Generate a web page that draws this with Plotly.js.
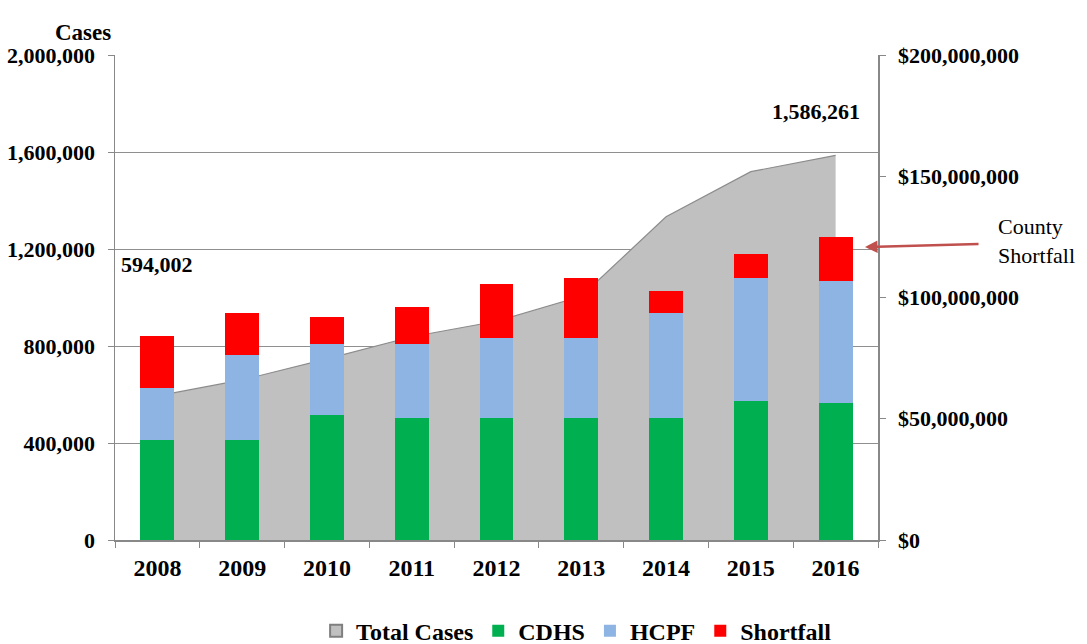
<!DOCTYPE html>
<html>
<head>
<meta charset="utf-8">
<script src="https://cdn.plot.ly/plotly-3.0.1.min.js"></script>
<style>html,body{margin:0;padding:0;background:#fff;}#chart{width:1087px;height:644px;}</style>
</head>
<body>
<div id="chart"></div>
<script>
var years = ['2008','2009','2010','2011','2012','2013','2014','2015','2016'];
var totalCases = [594002, 660000, 747000, 838000, 902000, 1005000, 1333000, 1519000, 1586261];
var cdhs = [41200000, 41200000, 51400000, 50200000, 50200000, 50200000, 50200000, 57300000, 56600000];
var hcpf = [21400000, 35000000, 29300000, 30500000, 33000000, 33000000, 43500000, 50600000, 50100000];
var shortfall = [21400000, 17400000, 11100000, 15500000, 22200000, 24700000, 9100000, 9900000, 18100000];
var seriesNames = ['Total Cases', 'CDHS', 'HCPF', 'Shortfall'];

var serif = 'Liberation Serif, Times New Roman, serif';
var tickFont = {family: serif, size: 22, color: '#000', weight: 'bold'};

var traces = [
  {type: 'scatter', mode: 'lines', x: years, y: totalCases, name: seriesNames[0],
   fill: 'tozeroy', fillcolor: '#C0C0C0', line: {color: '#8C8C8C', width: 1.2},
   yaxis: 'y', showlegend: false, legendgroup: 'total'},
  {type: 'bar', x: [years[0]], y: [null], name: seriesNames[0], legendgroup: 'total', showlegend: true,
   marker: {color: '#C0C0C0', line: {color: '#7F7F7F', width: 1}}, yaxis: 'y2'},
  {type: 'bar', x: years, y: cdhs, name: seriesNames[1], marker: {color: '#00B050'}, yaxis: 'y2'},
  {type: 'bar', x: years, y: hcpf, name: seriesNames[2], marker: {color: '#8EB4E3'}, yaxis: 'y2'},
  {type: 'bar', x: years, y: shortfall, name: seriesNames[3], marker: {color: '#FF0000'}, yaxis: 'y2'}
];

function fmt(n) { return n.toLocaleString('en-US'); }
var labelFont = {family: serif, size: 22, color: '#000', weight: 'bold'};

var layout = {
  width: 1087, height: 644,
  margin: {l: 115, r: 209, t: 55, b: 104, autoexpand: false},
  paper_bgcolor: '#fff', plot_bgcolor: '#fff',
  barmode: 'stack', bargap: 0.6,
  showlegend: true,
  legend: {orientation: 'h', x: 0.605, xanchor: 'center', y: -0.188, yanchor: 'middle',
           font: {family: serif, size: 24, color: '#000', weight: 'bold'}, traceorder: 'normal',
           itemwidth: 30, itemsizing: 'constant'},
  xaxis: {type: 'category', tickson: 'boundaries', ticks: 'outside', ticklen: 6, tickcolor: '#888',
          showline: true, linecolor: '#888', linewidth: 1.5, showgrid: false,
          tickfont: {family: serif, size: 24, color: '#000', weight: 'bold'},
          ticklabelstandoff: 6, range: [-0.5, 8.5]},
  yaxis: {range: [0, 2000000], dtick: 400000, tickformat: ',d', ticks: 'outside', ticklen: 6,
          tickcolor: '#888', showline: true, linecolor: '#888', linewidth: 1.5,
          showgrid: true, gridcolor: '#8F8F8F', gridwidth: 1, zeroline: false,
          tickfont: tickFont, ticklabelstandoff: 8},
  yaxis2: {overlaying: 'y', side: 'right', range: [0, 200000000], dtick: 50000000,
           tickformat: ',d', tickprefix: '$', ticks: 'outside', ticklen: 6, tickcolor: '#888',
           showline: true, linecolor: '#888', linewidth: 1.5, showgrid: false, zeroline: false,
           tickfont: tickFont, ticklabelstandoff: 8},
  annotations: [
    {xref: 'paper', yref: 'paper', x: -0.081, y: 1.076, text: 'Cases', showarrow: false,
     font: {family: serif, size: 23, color: '#000', weight: 'bold'}},
    {xref: 'x', yref: 'y', x: 0, y: totalCases[0], yshift: 131, text: fmt(totalCases[0]),
     showarrow: false, font: labelFont},
    {xref: 'x', yref: 'y', x: 8, y: totalCases[8], yshift: 44, xshift: -20, text: fmt(totalCases[8]),
     showarrow: false, font: labelFont},
    {xref: 'paper', yref: 'paper', x: 0.983, y: 0.604, text: '', showarrow: true,
     ax: 115, ay: -3, arrowhead: 2, arrowsize: 1, arrowwidth: 2.5, arrowcolor: '#C0504D'},
    {xref: 'paper', yref: 'paper', x: 1.155, y: 0.6155, xanchor: 'left', yanchor: 'middle', align: 'left',
     text: 'County<br>Shortfall', showarrow: false,
     font: {family: serif, size: 22, color: '#000'}}
  ]
};

Plotly.newPlot('chart', traces, layout, {displayModeBar: false, staticPlot: true});
</script>
</body>
</html>
